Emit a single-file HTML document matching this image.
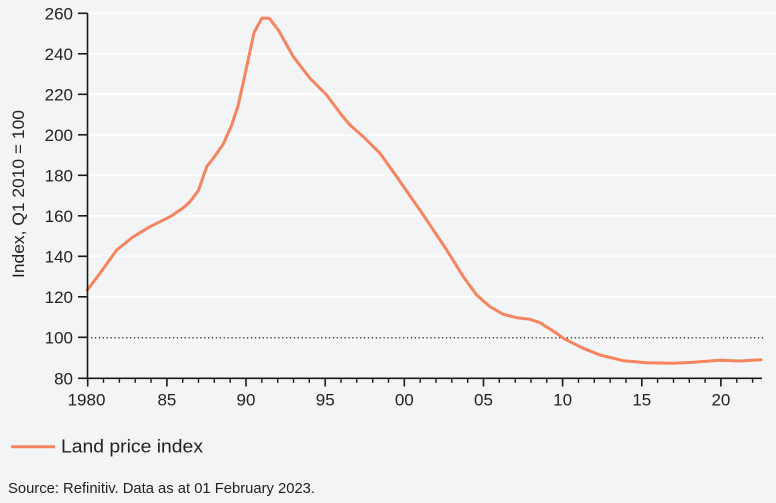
<!DOCTYPE html>
<html>
<head>
<meta charset="utf-8">
<style>
  html,body{margin:0;padding:0;background:#f3f4f6;}
  svg{display:block;}
  text{font-family:"Liberation Sans",sans-serif;fill:#222;}
</style>
</head>
<body>
<svg width="776" height="503" viewBox="0 0 776 503" xmlns="http://www.w3.org/2000/svg">
  <rect x="0" y="0" width="776" height="503" fill="#f3f4f6"/>
  <!-- gridlines -->
  <g stroke="#ffffff" stroke-width="1.6">
    <line x1="88" y1="13.3" x2="776" y2="13.3"/>
    <line x1="88" y1="53.8" x2="776" y2="53.8"/>
    <line x1="88" y1="94.3" x2="776" y2="94.3"/>
    <line x1="88" y1="134.8" x2="776" y2="134.8"/>
    <line x1="88" y1="175.3" x2="776" y2="175.3"/>
    <line x1="88" y1="215.8" x2="776" y2="215.8"/>
    <line x1="88" y1="256.3" x2="776" y2="256.3"/>
    <line x1="88" y1="296.8" x2="776" y2="296.8"/>
  </g>
  <!-- dotted 100 line -->
  <line x1="91" y1="337.8" x2="764" y2="337.8" stroke="#333" stroke-width="1.3" stroke-dasharray="1.3 2.6"/>

  <!-- series -->
  <polyline fill="none" stroke="#f5845f" stroke-width="3" stroke-linejoin="round" stroke-linecap="round"
    points="87.3,290 100,273.3 116.7,250 133.3,236.7 150,226.7 170,216.7 183,208 190,201.7 198.3,190.7 206.7,166.7 215,156 223.3,144 231.7,125 238.3,105 246.7,66.7 254,32.7 261.7,18.3 269.3,18.3 278.3,30 293.3,56.7 310,78.3 326.7,95 340,113 350,125 363.3,136.7 380,153.3 396.7,176.7 423.3,215 446.7,250 463.3,276.7 476.7,295 490,306.7 503.3,314.3 516.7,317.7 530,319.3 540,322.7 556.7,333.3 563.3,338.3 583.3,348.3 600,355 623.3,360.7 646.7,362.7 673.3,363.3 693.3,362.3 720,360.3 740,361 761,359.7"/>

  <!-- axes -->
  <g stroke="#1a1a1a" stroke-width="1.6">
    <line x1="87.5" y1="13" x2="87.5" y2="379"/>
    <line x1="87" y1="378.3" x2="762" y2="378.3"/>
    <!-- y ticks -->
    <line x1="78" y1="13.3" x2="87.5" y2="13.3"/>
    <line x1="78" y1="53.8" x2="87.5" y2="53.8"/>
    <line x1="78" y1="94.3" x2="87.5" y2="94.3"/>
    <line x1="78" y1="134.8" x2="87.5" y2="134.8"/>
    <line x1="78" y1="175.3" x2="87.5" y2="175.3"/>
    <line x1="78" y1="215.8" x2="87.5" y2="215.8"/>
    <line x1="78" y1="256.3" x2="87.5" y2="256.3"/>
    <line x1="78" y1="296.8" x2="87.5" y2="296.8"/>
    <line x1="78" y1="337.3" x2="87.5" y2="337.3"/>
    <line x1="78" y1="378.3" x2="87.5" y2="378.3"/>
    <!-- x major ticks -->
    <line x1="87.7" y1="378" x2="87.7" y2="386.5"/>
    <line x1="166.9" y1="378" x2="166.9" y2="386.5"/>
    <line x1="246" y1="378" x2="246" y2="386.5"/>
    <line x1="325.2" y1="378" x2="325.2" y2="386.5"/>
    <line x1="404.3" y1="378" x2="404.3" y2="386.5"/>
    <line x1="483.5" y1="378" x2="483.5" y2="386.5"/>
    <line x1="562.6" y1="378" x2="562.6" y2="386.5"/>
    <line x1="641.8" y1="378" x2="641.8" y2="386.5"/>
    <line x1="720.9" y1="378" x2="720.9" y2="386.5"/>
  </g>
  <g stroke="#1a1a1a" stroke-width="1.4">
    <line x1="103.5" y1="378" x2="103.5" y2="382.8"/>
    <line x1="119.4" y1="378" x2="119.4" y2="382.8"/>
    <line x1="135.2" y1="378" x2="135.2" y2="382.8"/>
    <line x1="151" y1="378" x2="151" y2="382.8"/>
    <line x1="182.7" y1="378" x2="182.7" y2="382.8"/>
    <line x1="198.5" y1="378" x2="198.5" y2="382.8"/>
    <line x1="214.3" y1="378" x2="214.3" y2="382.8"/>
    <line x1="230.2" y1="378" x2="230.2" y2="382.8"/>
    <line x1="261.8" y1="378" x2="261.8" y2="382.8"/>
    <line x1="277.7" y1="378" x2="277.7" y2="382.8"/>
    <line x1="293.5" y1="378" x2="293.5" y2="382.8"/>
    <line x1="309.3" y1="378" x2="309.3" y2="382.8"/>
    <line x1="341" y1="378" x2="341" y2="382.8"/>
    <line x1="356.8" y1="378" x2="356.8" y2="382.8"/>
    <line x1="372.7" y1="378" x2="372.7" y2="382.8"/>
    <line x1="388.5" y1="378" x2="388.5" y2="382.8"/>
    <line x1="420.2" y1="378" x2="420.2" y2="382.8"/>
    <line x1="436" y1="378" x2="436" y2="382.8"/>
    <line x1="451.8" y1="378" x2="451.8" y2="382.8"/>
    <line x1="467.7" y1="378" x2="467.7" y2="382.8"/>
    <line x1="499.3" y1="378" x2="499.3" y2="382.8"/>
    <line x1="515.2" y1="378" x2="515.2" y2="382.8"/>
    <line x1="531" y1="378" x2="531" y2="382.8"/>
    <line x1="546.8" y1="378" x2="546.8" y2="382.8"/>
    <line x1="578.5" y1="378" x2="578.5" y2="382.8"/>
    <line x1="594.3" y1="378" x2="594.3" y2="382.8"/>
    <line x1="610.2" y1="378" x2="610.2" y2="382.8"/>
    <line x1="626" y1="378" x2="626" y2="382.8"/>
    <line x1="657.6" y1="378" x2="657.6" y2="382.8"/>
    <line x1="673.5" y1="378" x2="673.5" y2="382.8"/>
    <line x1="689.3" y1="378" x2="689.3" y2="382.8"/>
    <line x1="705.1" y1="378" x2="705.1" y2="382.8"/>
    <line x1="736.8" y1="378" x2="736.8" y2="382.8"/>
    <line x1="752.6" y1="378" x2="752.6" y2="382.8"/>
  </g>

  <!-- y labels -->
  <g font-size="17" text-anchor="end">
    <text x="73" y="19.5">260</text>
    <text x="73" y="60">240</text>
    <text x="73" y="100.5">220</text>
    <text x="73" y="141">200</text>
    <text x="73" y="181.5">180</text>
    <text x="73" y="222">160</text>
    <text x="73" y="262.5">140</text>
    <text x="73" y="303">120</text>
    <text x="73" y="343.5">100</text>
    <text x="73" y="384.5">80</text>
  </g>
  <!-- x labels -->
  <g font-size="17" text-anchor="middle">
    <text x="86.5" y="405.5">1980</text>
    <text x="166.9" y="405.5">85</text>
    <text x="246" y="405.5">90</text>
    <text x="325.2" y="405.5">95</text>
    <text x="404.3" y="405.5">00</text>
    <text x="483.5" y="405.5">05</text>
    <text x="562.6" y="405.5">10</text>
    <text x="641.8" y="405.5">15</text>
    <text x="720.9" y="405.5">20</text>
  </g>
  <!-- y title -->
  <text font-size="17" text-anchor="middle" transform="translate(24,194) rotate(-90)" textLength="168" lengthAdjust="spacingAndGlyphs">Index, Q1 2010 = 100</text>

  <!-- legend -->
  <line x1="11" y1="446.7" x2="55" y2="446.7" stroke="#f5845f" stroke-width="3"/>
  <text x="61" y="452.5" font-size="18.5" fill="#111" textLength="142" lengthAdjust="spacingAndGlyphs">Land price index</text>

  <!-- source -->
  <text x="8" y="493" font-size="15" fill="#333" textLength="307" lengthAdjust="spacingAndGlyphs">Source: Refinitiv. Data as at 01 February 2023.</text>
</svg>
</body>
</html>
